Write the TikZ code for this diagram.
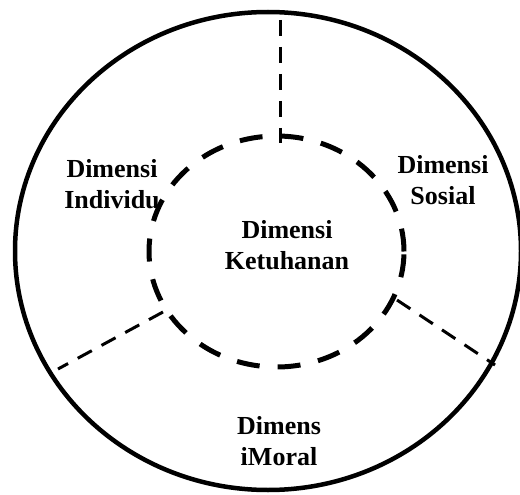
\documentclass[tikz,border=0pt]{standalone}
\usepackage{fontspec}
\setmainfont{Liberation Serif}
\usetikzlibrary{shapes.geometric}
\begin{document}
\begin{tikzpicture}[x=1pt,y=-1pt,
  outerring/.style={draw,ellipse,line width=4.5pt,inner sep=0pt},
  innerring/.style={draw,ellipse,line width=5pt,dash pattern=on 23pt off 18pt,inner sep=0pt},
  divider/.style={line width=3pt,dash pattern=on 16pt off 11pt},
  label/.style={font=\bfseries\fontsize{26}{31}\selectfont,align=center,inner sep=0pt}]
\useasboundingbox (0,0) rectangle (520,495);
\node[outerring,minimum width=506pt,minimum height=478pt] (outer) at (268,251) {};
\node[innerring,minimum width=255pt,minimum height=231pt] (inner) at (276.5,251.5) {};
\coordinate (t1) at (280,20);
\coordinate (t2) at (280,143);
\coordinate (l1) at (163,312);
\coordinate (l2) at (58,369);
\coordinate (r1) at (397,300);
\coordinate (r2) at (495,365);
\draw[divider] (t1) -- (t2);
\draw[divider] (l1) -- (l2);
\draw[divider] (r1) -- (r2);
\node[label] (ind) at (112,184) {Dimensi\\Individu};
\node[label] (sos) at (443,180) {Dimensi\\Sosial};
\node[label] (ket) at (287,245) {Dimensi\\Ketuhanan};
\node[label] (mor) at (279,441) {Dimens\\iMoral};
\end{tikzpicture}
\end{document}
